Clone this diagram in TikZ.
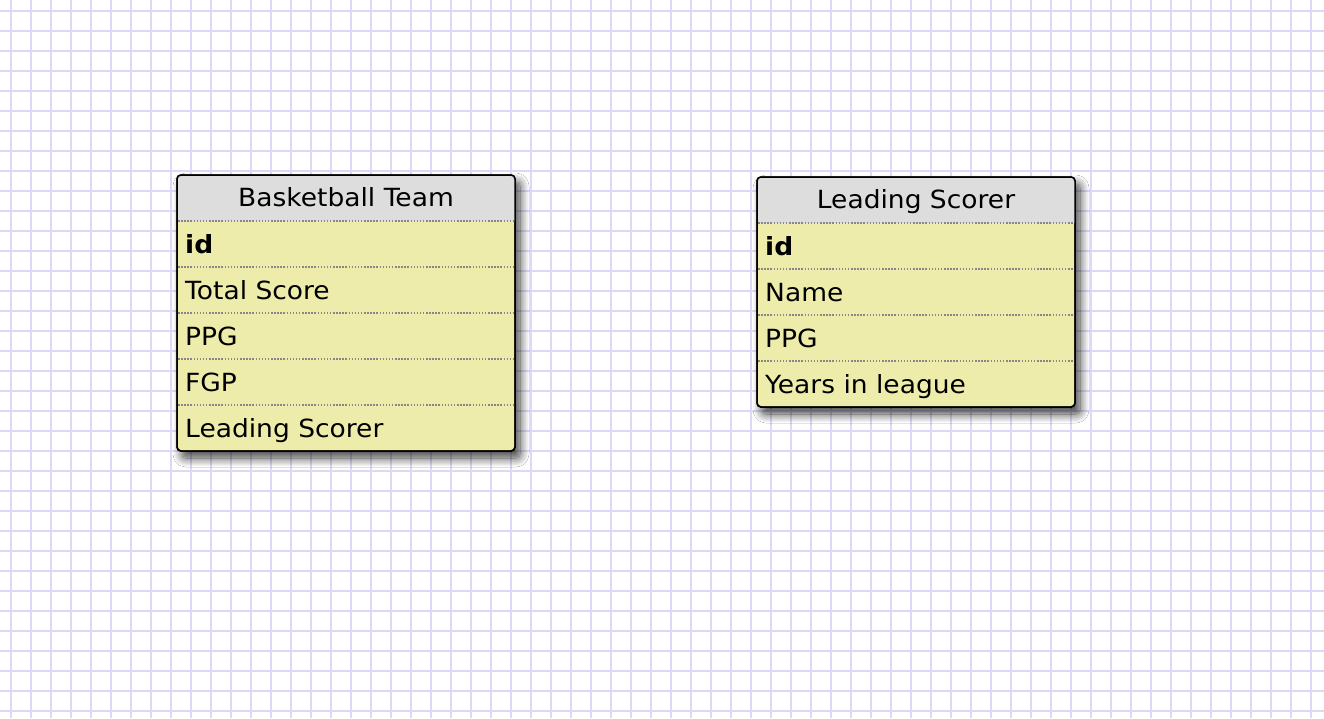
\documentclass[tikz,border=0pt]{standalone}
\usepackage{fontspec}
\setmainfont[FakeStretch=1.06]{DejaVu Sans}
\usetikzlibrary{shadows.blur}
\definecolor{gridc}{RGB}{218,218,248}
\definecolor{rowfill}{RGB}{238,236,170}
\definecolor{headfill}{RGB}{221,221,221}
\definecolor{sepc}{RGB}{135,135,135}
\tikzset{
  tablebox/.style={draw=black, line width=1.5pt, fill=rowfill, rounded corners=4pt,
    inner sep=0pt, outer sep=0pt,
    blur shadow={shadow xshift=5pt, shadow yshift=-7pt, shadow blur radius=9pt, shadow opacity=75, shadow blur steps=14}},
  border/.style={draw=black, line width=1.5pt, rounded corners=4pt},
  sepline/.style={draw=sepc, line width=1.3pt, dash pattern=on 1.5pt off 1.6pt},
  fieldtxt/.style={anchor=base west, inner sep=0pt, font=\fontsize{25}{29}\selectfont},
  keytxt/.style={fieldtxt, font=\fontsize{25}{29}\selectfont\bfseries},
  headtxt/.style={anchor=base, inner sep=0pt, font=\fontsize{25}{29}\selectfont}
}
\begin{document}
\begin{tikzpicture}[x=1pt,y=-1pt]
\useasboundingbox (0,0) rectangle (1324,718);
\fill[white] (0,0) rectangle (1324,718);
% grid
\foreach \g in {11,31,...,1323} \draw[gridc, line width=1.6pt] (\g,0) -- (\g,718);
\foreach \g in {11,31,...,717} \draw[gridc, line width=1.6pt] (0,\g) -- (1324,\g);

% ---------- Basketball Team ----------
\node[tablebox, minimum width=338pt, minimum height=276pt] (bt) at (346,313) {};
\begin{scope}
  \clip[rounded corners=4pt] (bt.south west) rectangle (bt.north east);
  \fill[headfill] (bt.north west) rectangle (515,221);
\end{scope}
\foreach \yy in {221,267,313,359,405} \draw[sepline] (178,\yy) -- (514,\yy);
\draw[border] (bt.south west) rectangle (bt.north east);
\node[headtxt] (bth) at (346,206) {Basketball Team};
\node[keytxt] (bt1) at (185,253) {id};
\node[fieldtxt] (bt2) at (185,299) {Total Score};
\node[fieldtxt] (bt3) at (185,345) {PPG};
\node[fieldtxt] (bt4) at (185,391) {FGP};
\node[fieldtxt] (bt5) at (185,437) {Leading Scorer};

% ---------- Leading Scorer ----------
\node[tablebox, minimum width=318pt, minimum height=230pt] (ls) at (916,292) {};
\begin{scope}
  \clip[rounded corners=4pt] (ls.south west) rectangle (ls.north east);
  \fill[headfill] (ls.north west) rectangle (1075,223);
\end{scope}
\foreach \yy in {223,269,315,361} \draw[sepline] (758,\yy) -- (1074,\yy);
\draw[border] (ls.south west) rectangle (ls.north east);
\node[headtxt] (lsh) at (916,208) {Leading Scorer};
\node[keytxt] (ls1) at (765,255) {id};
\node[fieldtxt] (ls2) at (765,301) {Name};
\node[fieldtxt] (ls3) at (765,347) {PPG};
\node[fieldtxt] (ls4) at (765,393) {Years in league};
\end{tikzpicture}
\end{document}
